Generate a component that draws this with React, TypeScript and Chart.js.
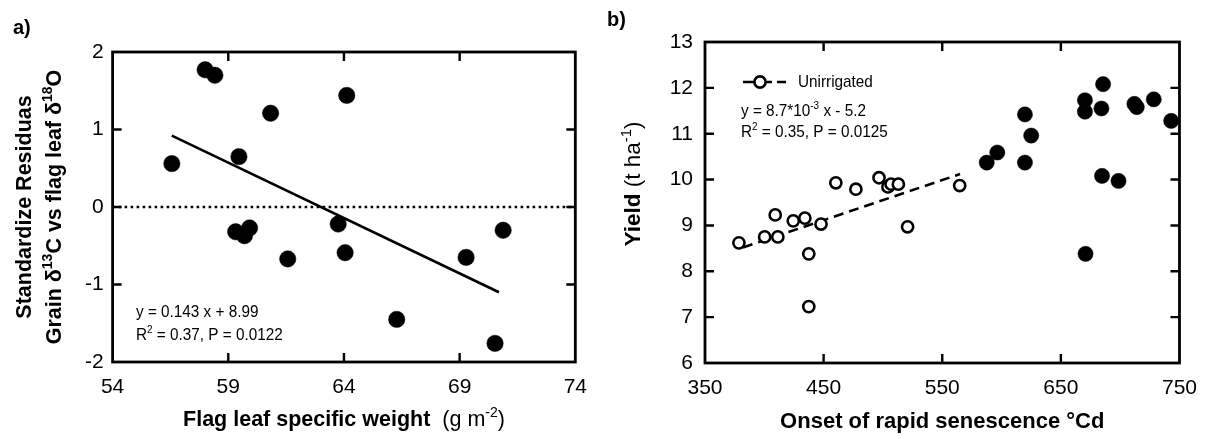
import React, { useEffect, useRef } from 'react';
import { Chart, registerables } from 'chart.js';
Chart.register(...registerables);

// ---------- Panel a data ----------
const weightX = [56.56, 58.0, 58.42, 60.83, 64.12, 59.46, 59.32, 59.7, 59.92, 61.57, 63.75, 64.05, 66.28, 69.28, 70.53, 70.88];
const residualY = [0.56, 1.77, 1.7, 1.21, 1.44, 0.65, -0.32, -0.37, -0.27, -0.67, -0.22, -0.59, -1.45, -0.65, -1.76, -0.3];
const fitAX = [56.56, 70.7];
const fitAY = [0.92, -1.1];
const zeroLineX = [54, 74];
const zeroLineY = [0, 0];
const xTicksA = [54, 59, 64, 69, 74];
const yTicksA = [-2, -1, 0, 1, 2];

// ---------- Panel b data ----------
const unirrX = [378.6, 400.3, 411.4, 409.2, 424.4, 434.2, 447.8, 437.5, 437.5, 460.3, 477.2, 496.7, 504.2, 506.9, 513.0, 520.8, 564.7];
const unirrY = [8.62, 8.75, 8.75, 9.23, 9.1, 9.16, 9.03, 8.38, 7.23, 9.93, 9.79, 10.04, 9.84, 9.9, 9.9, 8.97, 9.87];
const irrX = [587.5, 596.4, 619.7, 619.7, 625.0, 670.3, 670.3, 670.8, 685.6, 684.2, 684.7, 698.6, 712.0, 714.0, 728.3, 743.0];
const irrY = [10.37, 10.59, 11.42, 10.37, 10.96, 11.73, 11.48, 8.38, 12.08, 11.55, 10.08, 9.97, 11.65, 11.58, 11.75, 11.28];
const fitBX = [382, 565];
const fitBY = [8.52, 10.12];
const xTicksB = [350, 450, 550, 650, 750];
const yTicksB = [6, 7, 8, 9, 10, 11, 12, 13];

const FAMILY = '"Liberation Sans", Arial, Helvetica, sans-serif';

type Seg = { t: string; b?: boolean; sup?: boolean };

function segFont(s: Seg, size: number) {
  const sz = s.sup ? Math.round(size * 0.65) : size;
  return `${s.b ? 'bold ' : ''}${sz}px ${FAMILY}`;
}

function richWidth(ctx: CanvasRenderingContext2D, segs: Seg[], size: number) {
  let w = 0;
  for (const s of segs) {
    ctx.font = segFont(s, size);
    w += ctx.measureText(s.t).width;
  }
  return w;
}

function drawRich(
  ctx: CanvasRenderingContext2D,
  segs: Seg[],
  x: number,
  y: number,
  size: number,
  opts: { angle?: number; align?: 'center' | 'left'; sx?: number } = {}
) {
  const angle = opts.angle || 0;
  const sx = opts.sx || 1;
  ctx.save();
  ctx.translate(x, y);
  ctx.rotate(angle);
  ctx.scale(sx, 1);
  const w = richWidth(ctx, segs, size);
  let cx = opts.align === 'left' ? 0 : -w / 2;
  ctx.fillStyle = '#000';
  ctx.textBaseline = 'alphabetic';
  ctx.textAlign = 'left';
  for (const s of segs) {
    ctx.font = segFont(s, size);
    const dy = s.sup ? -size * 0.4 : 0;
    ctx.fillText(s.t, cx, size * 0.36 + dy);
    cx += ctx.measureText(s.t).width;
  }
  ctx.restore();
}

function frameAndTicks(chart: any, xTicks: number[], yTicks: number[]) {
  const ctx: CanvasRenderingContext2D = chart.ctx;
  const { left, right, top, bottom } = chart.chartArea;
  const xs = chart.scales.x;
  const ys = chart.scales.y;
  ctx.save();
  ctx.strokeStyle = '#000';
  ctx.lineWidth = 2.8;
  ctx.setLineDash([]);
  ctx.strokeRect(left, top, right - left, bottom - top);
  const len = 9;
  ctx.lineWidth = 2.4;
  ctx.beginPath();
  for (const v of xTicks.slice(1, -1)) {
    const px = xs.getPixelForValue(v);
    ctx.moveTo(px, bottom);
    ctx.lineTo(px, bottom - len);
    ctx.moveTo(px, top);
    ctx.lineTo(px, top + len);
  }
  for (const v of yTicks.slice(1, -1)) {
    const py = ys.getPixelForValue(v);
    ctx.moveTo(left, py);
    ctx.lineTo(left + len, py);
    ctx.moveTo(right, py);
    ctx.lineTo(right - len, py);
  }
  ctx.stroke();
  ctx.restore();
}

const tickFont = { family: FAMILY, size: 21 };

function baseScales(
  xMin: number, xMax: number, xTicks: number[],
  yMin: number, yMax: number, yTicks: number[],
  yWidth: number, xHeight: number, yPad: number
) {
  return {
    x: {
      type: 'linear',
      min: xMin,
      max: xMax,
      afterBuildTicks: (s: any) => { s.ticks = xTicks.map((v) => ({ value: v })); },
      afterFit: (s: any) => { s.height = xHeight; },
      grid: { display: false, drawTicks: false },
      border: { display: false },
      ticks: { font: tickFont, color: '#000', padding: 13, autoSkip: false, maxRotation: 0, callback: (v: any) => String(v) },
    },
    y: {
      type: 'linear',
      min: yMin,
      max: yMax,
      afterBuildTicks: (s: any) => { s.ticks = yTicks.map((v) => ({ value: v })); },
      afterFit: (s: any) => { s.width = yWidth; },
      grid: { display: false, drawTicks: false },
      border: { display: false },
      ticks: { font: tickFont, color: '#000', padding: yPad, autoSkip: false, callback: (v: any) => String(v) },
    },
  };
}

function PanelA() {
  const ref = useRef<HTMLCanvasElement>(null);
  useEffect(() => {
    if (!ref.current) return;
    const plugin = {
      id: 'panelA',
      afterDraw(chart: any) {
        const ctx: CanvasRenderingContext2D = chart.ctx;
        frameAndTicks(chart, xTicksA, yTicksA);
        const { left, right, top, bottom } = chart.chartArea;
        const cy = (top + bottom) / 2;
        drawRich(ctx, [{ t: 'a)', b: true }], 13, 27, 20, { align: 'left' });
        drawRich(ctx, [{ t: 'Standardize Residuas', b: true }], 23, cy, 21.5, { angle: -Math.PI / 2 });
        drawRich(
          ctx,
          [
            { t: 'Grain δ', b: true },
            { t: '13', b: true, sup: true },
            { t: 'C vs flag leaf δ', b: true },
            { t: '18', b: true, sup: true },
            { t: 'O', b: true },
          ],
          53, cy, 21.5, { angle: -Math.PI / 2 }
        );
        drawRich(
          ctx,
          [
            { t: 'Flag leaf specific weight', b: true },
            { t: '  (g m' },
            { t: '-2', sup: true },
            { t: ')' },
          ],
          (left + right) / 2, 418, 21.5
        );
        drawRich(ctx, [{ t: 'y = 0.143 x + 8.99' }], 136, 311, 17, { align: 'left', sx: 0.9 });
        drawRich(ctx, [{ t: 'R' }, { t: '2', sup: true }, { t: ' = 0.37, P = 0.0122' }], 136, 334, 17, { align: 'left', sx: 0.9 });
      },
    };
    const chart = new Chart(ref.current, {
      type: 'scatter',
      data: {
        datasets: [
          {
            data: weightX.map((x, i) => ({ x, y: residualY[i] })),
            pointRadius: 8.2,
            pointBackgroundColor: '#000',
            pointBorderColor: '#000',
            pointBorderWidth: 0.5,
            order: 1,
          },
          {
            data: fitAX.map((x, i) => ({ x, y: fitAY[i] })),
            showLine: true,
            borderColor: '#000',
            borderWidth: 2.6,
            pointRadius: 0,
            order: 2,
          },
          {
            data: zeroLineX.map((x, i) => ({ x, y: zeroLineY[i] })),
            showLine: true,
            borderColor: '#000',
            borderWidth: 2.6,
            borderDash: [2.6, 3.4],
            pointRadius: 0,
            order: 3,
          },
        ],
      } as any,
      options: {
        responsive: false,
        animation: false,
        layout: { padding: { left: 0, top: 52, right: 21, bottom: 0 } },
        plugins: { legend: { display: false }, tooltip: { enabled: false } },
        scales: baseScales(54, 74, xTicksA, -2, 2, yTicksA, 112.6, 77, 9) as any,
      } as any,
      plugins: [plugin],
    });
    return () => chart.destroy();
  }, []);
  return <canvas ref={ref} width={600} height={439} style={{ position: 'absolute', left: 0, top: 0, width: 600, height: 439 }} />;
}

function PanelB() {
  const ref = useRef<HTMLCanvasElement>(null);
  useEffect(() => {
    if (!ref.current) return;
    const plugin = {
      id: 'panelB',
      afterDraw(chart: any) {
        const ctx: CanvasRenderingContext2D = chart.ctx;
        frameAndTicks(chart, xTicksB, yTicksB);
        const { left, right } = chart.chartArea;
        drawRich(ctx, [{ t: 'b)', b: true }], 7, 19, 20, { align: 'left' });
        drawRich(
          ctx,
          [{ t: 'Yield', b: true }, { t: ' (t ha' }, { t: '-1', sup: true }, { t: ')' }],
          32, 184, 22.5, { angle: -Math.PI / 2 }
        );
        drawRich(ctx, [{ t: 'Onset of rapid senescence °Cd', b: true }], (left + right) / 2, 420, 22);
        ctx.save();
        ctx.strokeStyle = '#000';
        ctx.lineWidth = 2.6;
        ctx.setLineDash([12, 5]);
        ctx.beginPath();
        ctx.moveTo(143, 82);
        ctx.lineTo(186, 82);
        ctx.stroke();
        ctx.setLineDash([]);
        ctx.beginPath();
        ctx.arc(160, 82, 5.6, 0, Math.PI * 2);
        ctx.fillStyle = '#fff';
        ctx.fill();
        ctx.stroke();
        ctx.restore();
        drawRich(ctx, [{ t: 'Unirrigated' }], 198, 81, 17, { align: 'left', sx: 0.9 });
        drawRich(ctx, [{ t: 'y = 8.7*10' }, { t: '-3', sup: true }, { t: ' x - 5.2' }], 141, 110, 17, { align: 'left', sx: 0.9 });
        drawRich(ctx, [{ t: 'R' }, { t: '2', sup: true }, { t: ' = 0.35, P = 0.0125' }], 141, 131, 17, { align: 'left', sx: 0.9 });
      },
    };
    const chart = new Chart(ref.current, {
      type: 'scatter',
      data: {
        datasets: [
          {
            data: unirrX.map((x, i) => ({ x, y: unirrY[i] })),
            pointRadius: 5.6,
            pointBackgroundColor: '#fff',
            pointBorderColor: '#000',
            pointBorderWidth: 2.6,
            order: 1,
          },
          {
            data: irrX.map((x, i) => ({ x, y: irrY[i] })),
            pointRadius: 7.6,
            pointBackgroundColor: '#000',
            pointBorderColor: '#000',
            pointBorderWidth: 0.5,
            order: 1,
          },
          {
            data: fitBX.map((x, i) => ({ x, y: fitBY[i] })),
            showLine: true,
            borderColor: '#000',
            borderWidth: 2.6,
            borderDash: [10, 6],
            pointRadius: 0,
            order: 2,
          },
        ],
      } as any,
      options: {
        responsive: false,
        animation: false,
        layout: { padding: { left: 0, top: 42, right: 25, bottom: 0 } },
        plugins: { legend: { display: false }, tooltip: { enabled: false } },
        scales: baseScales(350, 750, xTicksB, 6, 13, yTicksB, 105, 76, 12) as any,
      } as any,
      plugins: [plugin],
    });
    return () => chart.destroy();
  }, []);
  return <canvas ref={ref} width={610} height={439} style={{ position: 'absolute', left: 600, top: 0, width: 610, height: 439 }} />;
}

export default function App() {
  return (
    <div style={{ position: 'fixed', left: 0, top: 0, width: 1210, height: 439, background: '#fff', overflow: 'hidden' }}>
      <PanelA />
      <PanelB />
    </div>
  );
}
